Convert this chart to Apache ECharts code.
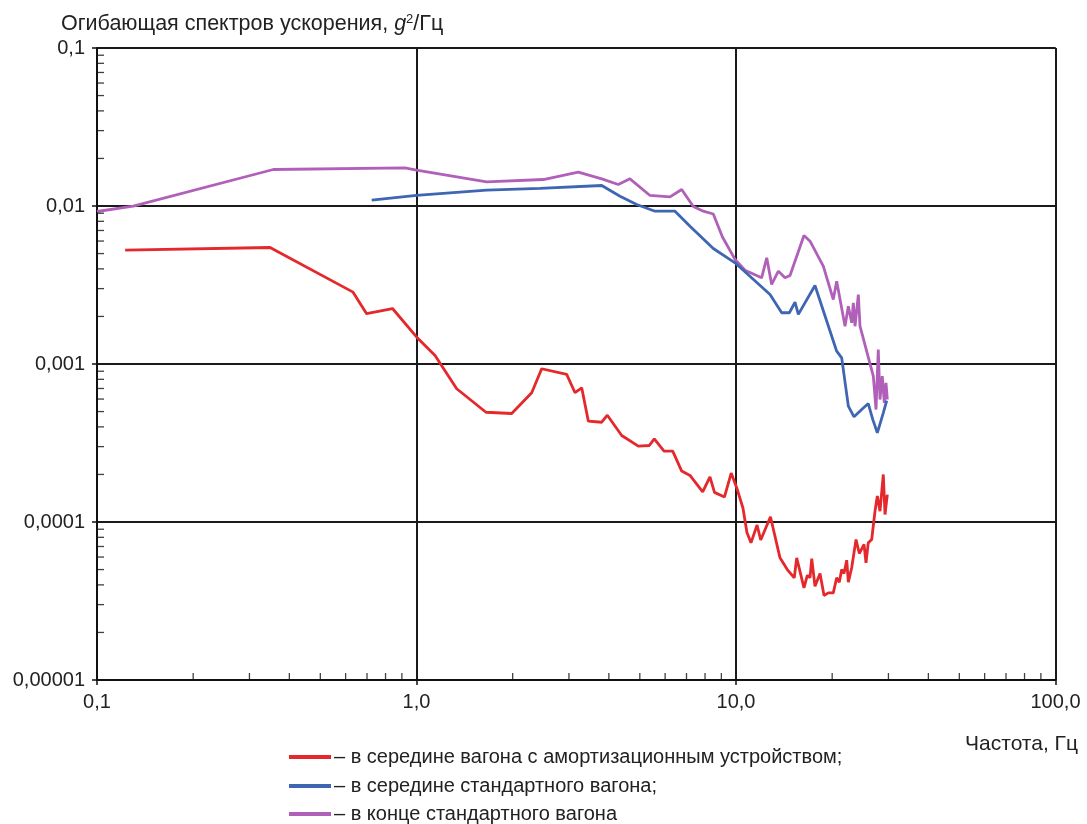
<!DOCTYPE html>
<html>
<head>
<meta charset="utf-8">
<script src="https://cdn.jsdelivr.net/npm/echarts@6/dist/echarts.min.js"></script>
<style>html,body{margin:0;padding:0;background:#fff}#c{width:1087px;height:824px}</style>
</head>
<body>
<div id="c"></div>
<script>
// ---- Data (frequency, Hz ; PSD envelope, g^2/Hz) ----
const seriesNames = [
  '– в середине вагона с амортизационным устройством;',
  '– в середине стандартного вагона;',
  '– в конце стандартного вагона'
];
const redData = [
  [0.1225,0.00525],[0.348,0.00546],[0.633,0.00285],[0.698,0.00208],[0.841,0.002245],
  [1.0,0.001483],[1.143,0.001132],[1.336,0.000697],[1.65,0.000495],[1.986,0.000486],
  [2.294,0.000658],[2.465,0.000933],[2.952,0.000859],[3.134,0.000658],[3.289,0.000707],
  [3.45,0.000435],[3.8,0.000428],[3.956,0.000474],[4.388,0.000353],[4.946,0.000302],
  [5.353,0.000305],[5.55,0.000336],[5.953,0.000281],[6.338,0.000281],[6.761,0.00021],
  [7.178,0.000197],[7.866,0.000155],[8.289,0.000193],[8.564,0.000154],[9.204,0.000144],
  [9.66,0.000204],[10.07,0.000163],[10.51,0.000123],[10.82,0.0000858],[11.14,0.0000738],
  [11.64,0.0000957],[11.95,0.0000769],[12.82,0.000108],[13.73,0.0000593],[14.47,0.00005],
  [15.22,0.0000444],[15.49,0.0000593],[16.32,0.0000383],[16.72,0.0000459],[17.05,0.0000444],
  [17.26,0.0000587],[17.67,0.0000392],[18.32,0.0000472],[18.86,0.0000343],[19.45,0.0000356],
  [20.16,0.0000356],[20.66,0.0000444],[21.05,0.0000416],[21.42,0.00005],[21.78,0.0000472],
  [22.21,0.0000573],[22.47,0.0000416],[23.02,0.0000513],[23.75,0.0000775],[24.32,0.0000632],
  [25.16,0.0000721],[25.52,0.0000552],[25.94,0.0000738],[26.59,0.0000775],[27.23,0.000117],
  [27.69,0.000146],[28.23,0.000117],[28.91,0.0002],[29.27,0.0001115],[29.76,0.000149]
];
const blueData = [
  [0.724,0.01088],[1.0,0.01166],[1.658,0.01259],[2.435,0.01291],[3.8,0.01348],
  [4.335,0.01153],[4.889,0.01022],[5.578,0.00927],[6.443,0.00927],[7.178,0.00745],
  [8.49,0.00538],[9.93,0.00437],[12.78,0.00275],[13.9,0.00211],[14.69,0.00211],
  [15.3,0.00246],[15.67,0.00206],[17.67,0.00314],[20.66,0.001205],[21.42,0.001094],
  [22.47,0.000541],[23.41,0.000463],[24.74,0.000515],[25.94,0.000562],[26.79,0.000446],
  [27.69,0.000367],[28.91,0.000491],[29.63,0.000587]
];
const purpleData = [
  [0.1,0.00923],[0.1299,0.00997],[0.3562,0.01702],[0.92,0.01745],[1.0,0.01685],
  [1.658,0.01423],[2.494,0.01471],[3.209,0.01636],[3.8,0.01486],[4.281,0.01368],
  [4.658,0.01486],[5.381,0.01166],[6.215,0.01143],[6.761,0.01272],[7.353,0.00993],
  [7.9,0.00927],[8.49,0.0089],[9.07,0.00637],[9.93,0.00459],[10.67,0.00392],
  [12.03,0.00351],[12.48,0.0047],[12.93,0.00319],[13.57,0.00387],[14.23,0.00351],
  [14.76,0.00363],[16.32,0.00651],[17.05,0.00599],[18.76,0.00416],[20.16,0.00256],
  [20.66,0.00334],[21.94,0.001734],[22.47,0.00232],[23.02,0.001823],[23.29,0.00244],
  [23.58,0.001734],[24.15,0.00275],[24.44,0.001734],[26.9,0.000837],[27.43,0.000515],
  [27.88,0.001236],[28.23,0.000596],[28.7,0.000837],[29.12,0.000568],[29.48,0.00076],
  [29.76,0.000596]
];
// tick labels
const xTickValues = [0.1, 1, 10, 100];
const xTickLabels = ['0,1', '1,0', '10,0', '100,0'];
const yTickValues = [0.00001, 0.0001, 0.001, 0.01, 0.1];
const yTickLabels = ['0,00001', '0,0001', '0,001', '0,01', '0,1'];
const xMinorTicks = [0.2,0.3,0.4,0.5,0.6,0.7,0.8,0.9, 2,3,4,5,6,7,8,9, 20,30,40,50,60,70,80,90];
const yMinorTicks = [
  0.00002,0.00003,0.00004,0.00005,0.00006,0.00007,0.00008,0.00009,
  0.0002,0.0003,0.0004,0.0005,0.0006,0.0007,0.0008,0.0009,
  0.002,0.003,0.004,0.005,0.006,0.007,0.008,0.009,
  0.02,0.03,0.04,0.05,0.06,0.07,0.08,0.09
];
const colors = ['#e4282b', '#3f66b3', '#b160b9'];

function labelFor(values, labels, v) {
  for (let i = 0; i < values.length; i++) {
    if (Math.abs(Math.log10(v) - Math.log10(values[i])) < 1e-6) return labels[i];
  }
  return '';
}

const FONT = 'Liberation Sans, Arial, sans-serif';
const legendTops = [742, 771, 799];
const legends = seriesNames.map((n, i) => ({
  orient: 'vertical',
  left: 284, top: legendTops[i],
  itemWidth: 42, itemHeight: 4, itemGap: 0,
  icon: 'rect',
  data: [n],
  selectedMode: false,
  textStyle: {fontSize: 20, color: '#222', fontFamily: FONT, padding: [0,0,0,-2]}
}));

const chart = echarts.init(document.getElementById('c'), null, {renderer: 'canvas'});
chart.setOption({
  animation: false,
  backgroundColor: '#fff',
  textStyle: {fontFamily: FONT},
  title: [
    {
      left: 56, top: 8,
      text: '{a|Огибающая спектров ускорения, }{g|g}{s|2}{a|/Гц}',
      textStyle: {
        rich: {
          a: {fontSize: 21.5, color: '#222', fontWeight: 'normal', fontFamily: FONT},
          g: {fontSize: 21.5, color: '#222', fontWeight: 'normal', fontStyle: 'italic', fontFamily: FONT},
          s: {fontSize: 13, color: '#222', fontWeight: 'normal', fontFamily: FONT, verticalAlign: 'top', padding: [0,0,9,0]}
        }
      }
    },
    {
      right: 4, top: 729,
      text: 'Частота, Гц',
      textStyle: {fontSize: 21, fontWeight: 'normal', color: '#222', fontFamily: FONT}
    }
  ],
  legend: legends,
  grid: {left: 97, right: 31.5, top: 48, bottom: 144},
  xAxis: {
    type: 'log', logBase: 10, min: 0.1, max: 100,
    axisLine: {show: true, lineStyle: {color: '#111', width: 2}},
    axisTick: {show: true, length: 5, inside: false, lineStyle: {color: '#111', width: 1.5}},
    axisLabel: {
      margin: 12, fontSize: 20, color: '#222', fontFamily: FONT,
      formatter: v => labelFor(xTickValues, xTickLabels, v)
    },
    splitLine: {show: true, lineStyle: {color: '#1a1a1a', width: 2}},
    minorTick: {show: false}
  },
  yAxis: {
    type: 'log', logBase: 10, min: 0.00001, max: 0.1,
    axisLine: {show: true, lineStyle: {color: '#111', width: 2}},
    axisTick: {show: true, length: 5, inside: false, lineStyle: {color: '#111', width: 1.5}},
    axisLabel: {
      margin: 12, fontSize: 20, color: '#222', fontFamily: FONT,
      formatter: v => labelFor(yTickValues, yTickLabels, v)
    },
    splitLine: {show: true, lineStyle: {color: '#1a1a1a', width: 2}},
    minorTick: {show: false}
  },
  series: [
    {name: seriesNames[0], type: 'line', data: redData, showSymbol: false, color: colors[0],
     lineStyle: {width: 2.8, color: colors[0]}, z: 5},
    {name: seriesNames[1], type: 'line', data: blueData, showSymbol: false, color: colors[1],
     lineStyle: {width: 2.8, color: colors[1]}, z: 5},
    {name: seriesNames[2], type: 'line', data: purpleData, showSymbol: false, color: colors[2],
     lineStyle: {width: 2.8, color: colors[2]}, z: 4},
    {name: 'xminor', type: 'scatter', silent: true, clip: false, z: 6,
     data: xMinorTicks.map(v => [v, 0.00001]),
     symbol: 'rect', symbolSize: [1.3, 7], symbolOffset: [0, -3.5],
     itemStyle: {color: '#111'}},
    {name: 'yminor', type: 'scatter', silent: true, clip: false, z: 6,
     data: yMinorTicks.map(v => [0.1, v]),
     symbol: 'rect', symbolSize: [7, 1.3], symbolOffset: [3.5, 0],
     itemStyle: {color: '#111'}}
  ]
});
</script>
</body>
</html>
